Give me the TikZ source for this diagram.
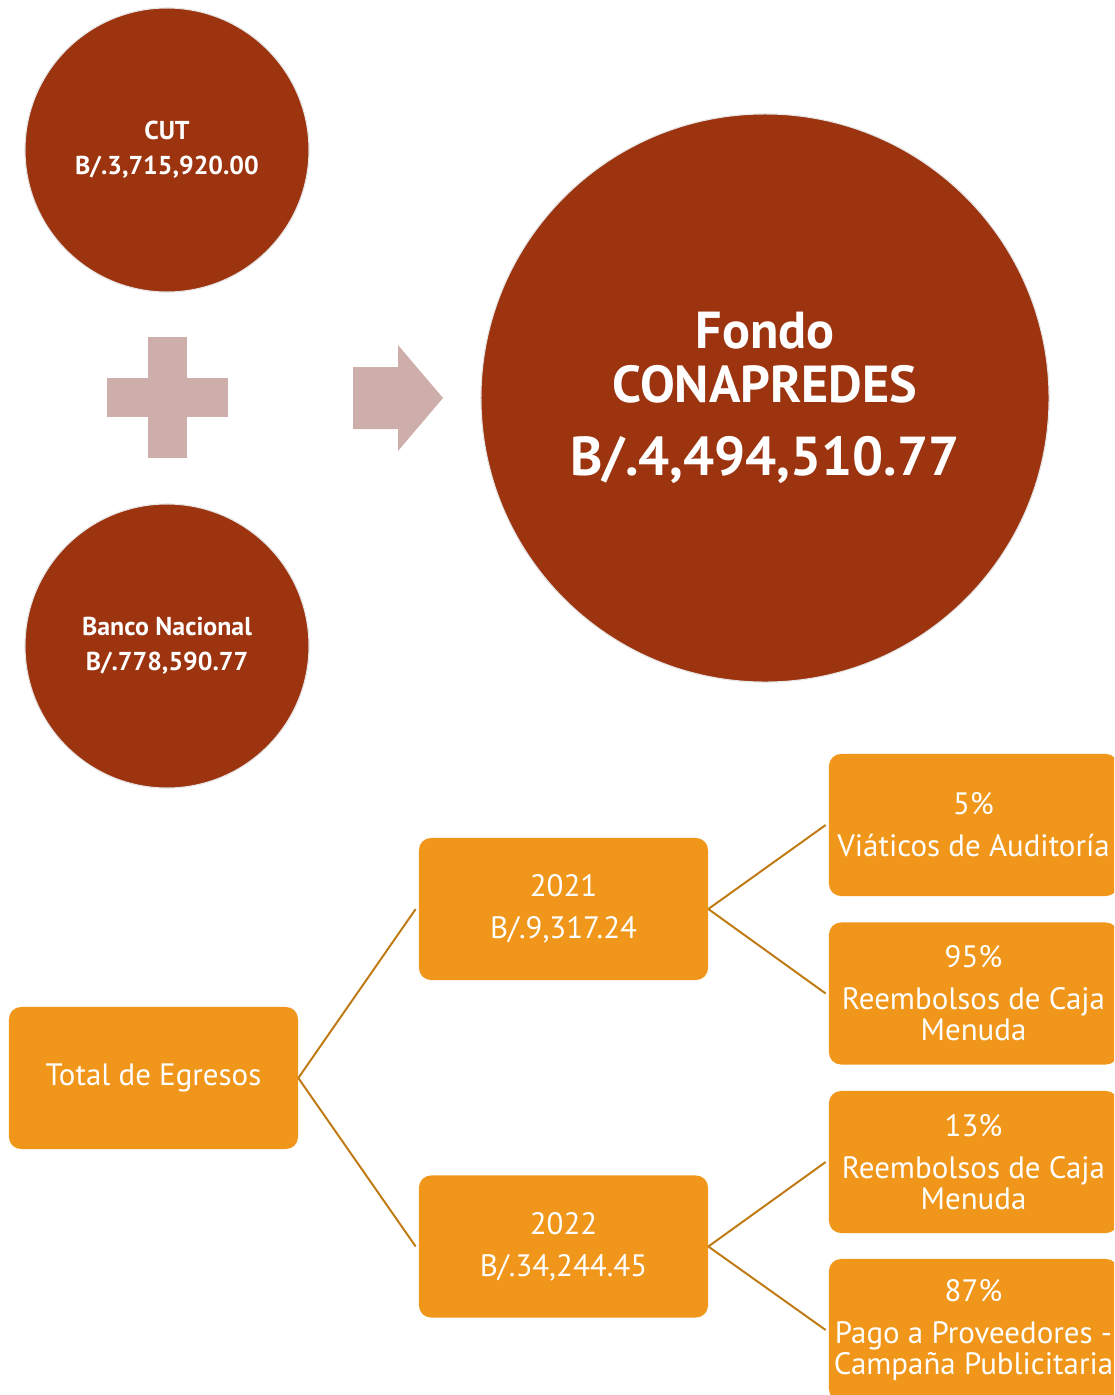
\documentclass[tikz,border=0pt]{standalone}
\usepackage{fontspec}
\setmainfont{PT Sans}
\usetikzlibrary{positioning}
\definecolor{fondorojo}{HTML}{9C3410}
\definecolor{cajanaranja}{HTML}{F0961A}
\definecolor{lineacafe}{HTML}{C07A12}
\definecolor{signorosa}{HTML}{CDAEAA}
\tikzset{
  circulo/.style={circle, fill=fondorojo, draw=gray!20, line width=0.8pt,
    text=white, align=center, inner sep=0pt},
  caja/.style={rectangle, rounded corners=0.3cm, fill=cajanaranja, text=white,
    minimum width=7.225cm, minimum height=3.55cm, align=center,
    font=\fontsize{22}{22}\selectfont},
  rama/.style={draw=lineacafe, line width=1.4pt},
}
\begin{document}
\begin{tikzpicture}[x=0.025cm,y=-0.025cm]
  \useasboundingbox (0,0) rectangle (1114,1395);
  \clip (0,0) rectangle (1114,1395);
  % Circulos
  \node[circulo, minimum size=7.1cm, font=\bfseries\fontsize{18.4}{25}\selectfont] (cut) at (167,150) {CUT\\B/.3,715,920.00};
  \node[circulo, minimum size=7.1cm, font=\bfseries\fontsize{18.4}{25}\selectfont] (banco) at (167,646) {Banco Nacional\\B/.778,590.77};
  \node[circulo, minimum size=14.2cm, font=\bfseries\fontsize{37}{38}\selectfont] (fondo) at (765,398) {Fondo\\CONAPREDES\\[14pt]{\fontsize{39}{38}\selectfont B/.4,494,510.77}};
  % Signo mas
  \fill[signorosa] (107,378) rectangle (228,417);
  \fill[signorosa] (148,337) rectangle (187,458);
  % Flecha
  \fill[signorosa] (353,367) -- (398,367) -- (398,345) -- (443,398)
    -- (398,451) -- (398,429) -- (353,429) -- cycle;
  % Cajas
  \node[caja] (total) at (153.5,1078) {Total de Egresos};
  \node[caja] (a2021) at (563.5,909) {2021\\[8pt]B/.9,317.24};
  \node[caja] (a2022) at (563.5,1246.5) {2022\\[8pt]B/.34,244.45};
  \node[caja] (viaticos) at (973.5,825) {5\%\\[8pt]Viáticos de Auditoría};
  \node[caja] (caja21) at (973.5,993.5) {95\%\\[8pt]Reembolsos de Caja\\Menuda};
  \node[caja] (caja22) at (973.5,1162) {13\%\\[8pt]Reembolsos de Caja\\Menuda};
  \node[caja] (pago) at (973.5,1330) {87\%\\[8pt]Pago a Proveedores -\\Campaña Publicitaria};
  % Ramas
  \draw[rama] (total.east) -- ([xshift=-0.075cm]a2021.west);
  \draw[rama] (total.east) -- ([xshift=-0.075cm]a2022.west);
  \draw[rama] (a2021.east) -- ([xshift=-0.075cm]viaticos.west);
  \draw[rama] (a2021.east) -- ([xshift=-0.075cm]caja21.west);
  \draw[rama] (a2022.east) -- ([xshift=-0.075cm]caja22.west);
  \draw[rama] (a2022.east) -- ([xshift=-0.075cm]pago.west);
\end{tikzpicture}
\end{document}
